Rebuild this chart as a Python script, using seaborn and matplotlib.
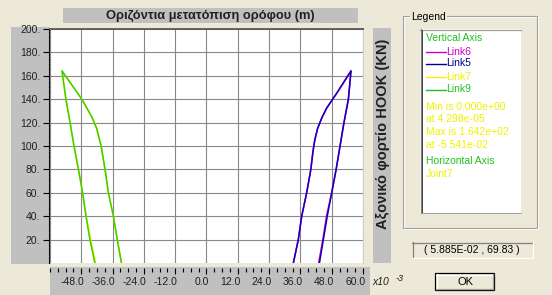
import numpy as np
import pandas as pd
import matplotlib
matplotlib.use("Agg")
import matplotlib.pyplot as plt
import seaborn as sns
from matplotlib.patches import Rectangle
from matplotlib.lines import Line2D
from matplotlib.transforms import ScaledTranslation

# ---------------- data (x in 1e-3 m, y in kN) ----------------
link9_x = [-32.6, -34.2, -35.7, -37.6, -38.9, -40.4, -42.1, -44.0, -47.8, -55.4,
           -53.9, -52.3, -50.8, -49.1, -47.5, -46.2, -44.7, -42.8]
link9_y = [0, 20, 40, 60, 80, 100, 115, 125, 140, 164.2,
           140, 120, 100, 80, 60, 40, 20, 0]
link7_x = [-32.6, -34.2, -35.7, -37.6, -38.9, -40.4, -42.1, -44.0, -47.8, -55.4,
           -53.9, -52.3, -50.8, -49.1, -47.5, -46.1, -44.4, -42.5]
link7_y = [0, 20, 40, 60, 80, 100, 115, 125, 140, 164.2,
           140, 120, 100, 80, 60, 40, 20, 0]
link5_x = [33.3, 35.2, 36.5, 38.4, 40.0, 40.8, 41.5, 42.6, 44.2, 46.1, 49.9, 55.4,
           54.4, 52.7, 51.2, 49.7, 48.0, 46.3, 44.8, 43.3]
link5_y = [0, 20, 40, 60, 80, 95, 105, 115, 124, 132.5, 145, 164.2,
           140, 120, 100, 80, 60, 40, 20, 0]
link6_x = [33.3, 35.2, 36.5, 38.4, 40.0, 40.8, 41.5, 42.6, 44.2, 46.1, 49.9, 55.4,
           54.4, 52.7, 51.2, 49.7, 48.0, 46.0, 44.6, 43.0]
link6_y = [0, 20, 40, 60, 80, 95, 105, 115, 124, 132.5, 145, 164.2,
           140, 120, 100, 80, 60, 40, 20, 0]

series_names = ["Link6", "Link5", "Link7", "Link9"]
series_colors = ["#CC00CC", "#1400B8", "#F0F000", "#3CD000"]

x_ticks = [-48, -36, -24, -12, 0, 12, 24, 36, 48, 60]
x_tick_labels = ["-48.0", "-36.0", "-24.0", "-12.0", "0.0", "12.0", "24.0", "36.0", "48.0", "60.0"]
y_ticks = [20, 40, 60, 80, 100, 120, 140, 160, 180, 200]
y_tick_labels = ["20.", "40.", "60.", "80.", "100.", "120.", "140.", "160.", "180.", "200."]

title_text = "Οριζόντια μετατόπιση ορόφου (m)"
ylabel_text = "Αξονικό φορτίο HOOK (KN)"
coord_text = "( 5.885E-02 , 69.83 )"

# ---------------- style ----------------
BG = "#ECE9D8"
GREY = "#C0C0C0"
W, H, DPI = 552, 295, 100
plt.rcParams["font.family"] = ["Liberation Sans", "DejaVu Sans"]

fig = plt.figure(figsize=(W / DPI, H / DPI), dpi=DPI, facecolor=BG)


def fx(x):
    return x / W


def fy(y):
    return 1 - y / H


def rect(x0, y0, x1, y1, **kw):
    r = Rectangle((fx(x0), fy(y1)), (x1 - x0) / W, (y1 - y0) / H,
                  transform=fig.transFigure, **kw)
    fig.add_artist(r)
    return r


def hline(x0, x1, y, **kw):
    fig.add_artist(Line2D([fx(x0), fx(x1)], [fy(y), fy(y)], transform=fig.transFigure, **kw))


def vline(x, y0, y1, **kw):
    fig.add_artist(Line2D([fx(x), fx(x)], [fy(y0), fy(y1)], transform=fig.transFigure, **kw))


# grey strips
rect(11, 27, 50, 264, fc=GREY, ec="none", zorder=-5)
rect(50, 267, 370, 295, fc=GREY, ec="none", zorder=-5)
rect(63, 8, 358, 23, fc=GREY, ec="none", zorder=-5)
rect(373, 28, 391, 263, fc=GREY, ec="none", zorder=-5)

fig.text(fx(210.5), fy(15.5), title_text, ha="center", va="center",
         fontsize=9.3, fontweight="bold", color="#202020")
fig.text(fx(382.5), fy(134), ylabel_text, ha="center", va="center", rotation=90,
         fontsize=10.5, fontweight="bold", color="#202020")

# ---------------- main plot ----------------
ax = fig.add_axes([fx(50), fy(263), 313 / W, 234 / H])
ax.set_facecolor("white")

all_x = [link6_x, link5_x, link7_x, link9_x]
all_y = [link6_y, link5_y, link7_y, link9_y]
for name, col, xs, ys in zip(series_names, series_colors, all_x, all_y):
    df = pd.DataFrame({"x": xs, "y": ys})
    sns.lineplot(data=df, x="x", y="y", sort=False, estimator=None,
                 color=col, lw=1.1, ax=ax, zorder=3)

ax.set_xlim(-60, 60)
ax.set_ylim(0, 200)
ax.set_xlabel("")
ax.set_ylabel("")
ax.set_xticks(np.arange(-60, 61, 12))
ax.set_yticks(y_ticks)
ax.set_yticklabels(y_tick_labels)
ax.grid(True, color="#888888", lw=0.8)
ax.set_axisbelow(True)
ax.tick_params(axis="x", length=0, labelbottom=False)
ax.tick_params(axis="y", direction="out", length=4.5, width=0.8, color="black",
               pad=1.5, labelsize=7.5, labelcolor="#202020")
for lbl in ax.get_yticklabels():
    lbl.set_va("top")
    lbl.set_transform(lbl.get_transform() + ScaledTranslation(0, -1.5 / DPI, fig.dpi_scale_trans))

ax.spines["bottom"].set_visible(False)
ax.spines["right"].set_color("#D0D0D0")
ax.spines["right"].set_linewidth(0.8)
ax.spines["top"].set_color("#606060")
ax.spines["top"].set_linewidth(1.4)
ax.spines["left"].set_position(("outward", 1))
ax.spines["left"].set_linestyle((0, (1, 1.2)))
ax.spines["left"].set_linewidth(0.8)
ax.spines["left"].set_color("black")

# ---------------- x-axis strip ----------------
axx = fig.add_axes([fx(50), fy(276), 313 / W, 8 / H])
axx.patch.set_visible(False)
for s in axx.spines.values():
    s.set_visible(False)
axx.set_xlim(-60, 60)
axx.set_ylim(0, 1)
axx.set_yticks([])
axx.set_xticks(x_ticks)
axx.set_xticklabels(x_tick_labels)
axx.set_xticks(np.arange(-60, 61, 3), minor=True)
axx.tick_params(axis="x", which="both", top=True, bottom=False, direction="in",
                labeltop=False, labelbottom=True, color="black", width=0.8, pad=1.0,
                labelsize=7.5, labelcolor="#202020")
axx.tick_params(axis="x", which="major", length=4.5)
axx.tick_params(axis="x", which="minor", length=3.2)
for lbl in axx.get_xticklabels():
    lbl.set_ha("right")
    lbl.set_transform(lbl.get_transform() + ScaledTranslation(2.5 / DPI, 0, fig.dpi_scale_trans))

fig.text(fx(372), fy(285), "x10", fontsize=7.5, style="italic", color="#202020",
         ha="left", va="baseline")
fig.text(fx(396), fy(281), "-3", fontsize=6.5, style="italic", color="#202020",
         ha="left", va="baseline")

# ---------------- legend group box ----------------
rect(404, 17, 538, 229, fc="none", ec="white", lw=0.8)
rect(403, 16, 537, 228, fc="none", ec="#A0A0A0", lw=0.8)
fig.text(fx(411), fy(16.5), "Legend", fontsize=7.5, color="black", ha="left", va="center",
         bbox=dict(fc=BG, ec="none", pad=1.0))

rect(420, 29, 521, 213, fc="white", ec="none")
hline(420, 521, 29.5, color="#A0A0A0", lw=0.9)
vline(420.5, 29, 213, color="#808080", lw=0.9)
vline(421.5, 30, 212, color="#404040", lw=0.7)
hline(421, 521, 212.5, color="#A0A0A0", lw=0.7)

LG = "#20C020"
fs = 7.5
fig.text(fx(426), fy(38), "Vertical Axis", fontsize=fs, color=LG, ha="left", va="center")
legend_y = [51.7, 63.5, 76.5, 89.5]
legend_text_colors = ["#CC00CC", "#000090", "#F0F000", "#20C020"]
for name, col, tcol, yy in zip(series_names, series_colors, legend_text_colors, legend_y):
    hline(426, 446, yy, color=tcol, lw=1.0)
    fig.text(fx(446.5), fy(yy), name, fontsize=fs, color=tcol, ha="left", va="center")

YEL = "#F0F000"
info_lines = [("Min is 0.000e+00", YEL, 106.7), ("at 4.298e-05", YEL, 119.5),
              ("Max is 1.642e+02", YEL, 132), ("at -5.541e-02", YEL, 145),
              ("Horizontal Axis", LG, 161), ("Joint7", YEL, 174)]
for txt, col, yy in info_lines:
    fig.text(fx(426), fy(yy), txt, fontsize=fs, color=col, ha="left", va="center")

# ---------------- coordinate box ----------------
rect(412, 242, 533, 258, fc=BG, ec="none")
hline(412, 533, 242.5, color="#808080", lw=0.9)
vline(412.5, 242, 258, color="#808080", lw=0.9)
hline(412, 533, 257.5, color="white", lw=0.9)
vline(532.5, 242, 258, color="white", lw=0.9)
fig.text(fx(472), fy(250), coord_text, fontsize=7.5, color="black", ha="center", va="center")

# ---------------- OK button ----------------
rect(435, 273, 494, 290, fc=BG, ec="black", lw=0.9)
hline(436, 493, 274.5, color="white", lw=0.9)
vline(436.5, 274, 289, color="white", lw=0.9)
hline(436, 493, 288.5, color="#A0A0A0", lw=0.9)
vline(492.5, 274, 289, color="#A0A0A0", lw=0.9)
fig.text(fx(465), fy(282), "OK", fontsize=8, color="black", ha="center", va="center")

fig.savefig("out.png", dpi=DPI, facecolor=BG)
